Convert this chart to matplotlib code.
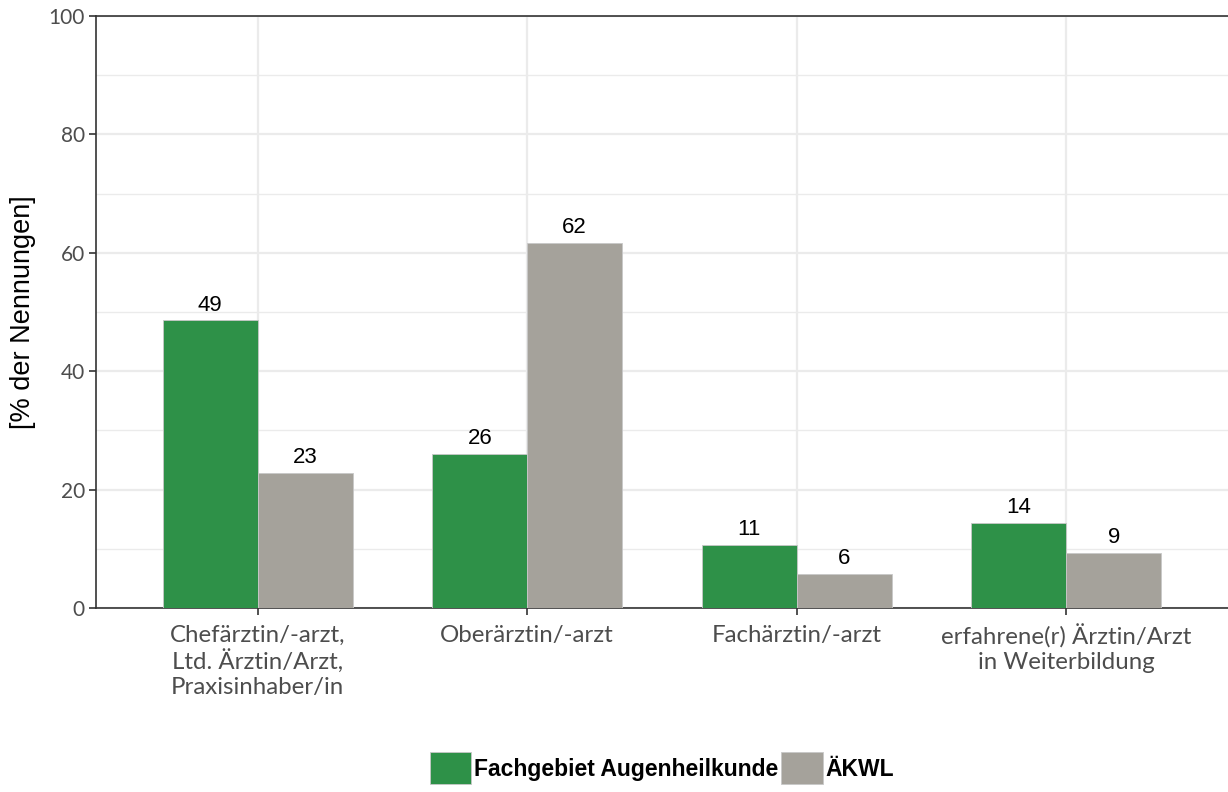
import numpy as np
import matplotlib
matplotlib.use("Agg")
import matplotlib.pyplot as plt
from matplotlib.patches import Patch

# Data
categories = ["Chefärztin/-arzt,\nLtd. Ärztin/Arzt,\nPraxisinhaber/in",
              "Oberärztin/-arzt",
              "Fachärztin/-arzt",
              "erfahrene(r) Ärztin/Arzt\nin Weiterbildung"]
augen = [48.6, 26.0, 10.7, 14.4]
aekwl = [22.8, 61.7, 5.8, 9.3]
series_names = ["Fachgebiet Augenheilkunde", "ÄKWL"]
colors = ["#2e9148", "#a5a29b"]

fig = plt.figure(figsize=(12.28, 7.92), dpi=100)
ax = fig.add_axes([96 / 1228, 1 - 608 / 792, 1 - 96 / 1228, 592 / 792])

x = np.arange(len(categories))
w = 0.352
b1 = ax.bar(x - w / 2, augen, w, color=colors[0], edgecolor="#c8c8c8", linewidth=0.6, zorder=3)
b2 = ax.bar(x + w / 2, aekwl, w, color=colors[1], edgecolor="#c8c8c8", linewidth=0.6, zorder=3)

for bars, vals in [(b1, augen), (b2, aekwl)]:
    for bar, v in zip(bars, vals):
        ax.text(bar.get_x() + bar.get_width() / 2, v + 0.8, f"{round(v):d}",
                ha="center", va="bottom", fontsize=16, family="Liberation Sans", color="black")

ax.set_xlim(-0.6, 3.6)
ax.set_ylim(0, 100)
ax.set_yticks(np.arange(0, 101, 20))
ax.set_yticks(np.arange(10, 100, 20), minor=True)
ax.set_xticks(x)
ax.set_xticklabels(categories, fontsize=17.3, family="Lato", color="#4d4d4d", linespacing=1.2)
ax.tick_params(axis="y", labelsize=15, labelcolor="#4d4d4d", length=5, width=1.2, color="#333333", pad=3)
for lab in ax.get_yticklabels():
    lab.set_family("Lato")
ax.tick_params(axis="y", which="minor", length=0)
ax.tick_params(axis="x", length=5, width=1.2, color="#333333", pad=7)

ax.grid(True, which="major", color="#ebebeb", linewidth=1.6, zorder=0)
ax.grid(True, which="minor", axis="y", color="#ebebeb", linewidth=1.0, zorder=0)

for s in ["left", "bottom", "top"]:
    ax.spines[s].set_color("#333333")
    ax.spines[s].set_linewidth(1.2)
ax.spines["right"].set_visible(False)

ax.set_ylabel("[% der Nennungen]", fontsize=19.5, family="Liberation Sans", color="black", labelpad=9)

handles = [Patch(facecolor=c, edgecolor="#c8c8c8", linewidth=0.6) for c in colors]
leg = fig.legend(handles, series_names, loc="center", bbox_to_anchor=(0.539, 0.03), ncol=2,
                 frameon=False, prop={"family": "Liberation Sans", "weight": "bold", "size": 16.5},
                 handlelength=1.8, handleheight=1.8, handletextpad=0.12, columnspacing=0.15)

fig.savefig("out.png", dpi=100)
